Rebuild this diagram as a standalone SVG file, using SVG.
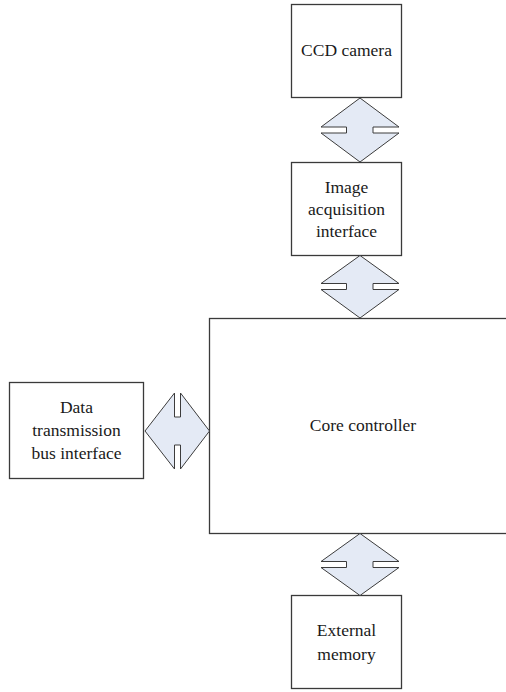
<svg xmlns="http://www.w3.org/2000/svg" width="506" height="692" viewBox="0 0 506 692">
<style>
.box{fill:#fff;stroke:#3a3a3a;stroke-width:1.3}
.arr{fill:#e4eaf5;stroke:#3c3c3c;stroke-width:1}
text{font-family:"Liberation Serif","Times New Roman",serif;font-size:17.5px;fill:#1a1a1a;text-anchor:middle}
</style>
<rect width="506" height="692" fill="#fff"/>
<g id="ccd">
<rect class="box" x="291.5" y="4.5" width="110" height="93"/>
<text x="346.5" y="56">CCD camera</text>
</g>
<g id="acq">
<rect class="box" x="291.5" y="162.5" width="110" height="93"/>
<text x="346.5" y="193">Image</text>
<text x="346.5" y="215">acquisition</text>
<text x="346.5" y="237">interface</text>
</g>
<g id="core">
<rect class="box" x="209.5" y="318.5" width="310" height="215"/>
<text x="363" y="431">Core controller</text>
</g>
<g id="bus">
<rect class="box" x="9.5" y="382.5" width="134" height="96"/>
<text x="76.5" y="413">Data</text>
<text x="76.5" y="436">transmission</text>
<text x="76.5" y="459">bus interface</text>
</g>
<g id="mem">
<rect class="box" x="291.5" y="595.5" width="110" height="93"/>
<text x="346.5" y="636">External</text>
<text x="346.5" y="660">memory</text>
</g>
<g id="connectors">
<polygon class="arr" points="360,98 399,127 373,127 373,133 399,133 360,162 321,133 346.5,133 346.5,127 321,127"/>
<polygon class="arr" points="360,255.5 399,283.5 373,283.5 373,289.5 399,289.5 360,318 321,289.5 346.5,289.5 346.5,283.5 321,283.5"/>
<polygon class="arr" points="360,533.5 399,561.5 373,561.5 373,567.5 399,567.5 360,595.5 321,567.5 346.5,567.5 346.5,561.5 321,561.5"/>
<polygon class="arr" points="145,431 174.5,393 174.5,417 180.5,417 180.5,393 209.5,431 180.5,469 180.5,445 174.5,445 174.5,469"/>
</g>
</svg>
